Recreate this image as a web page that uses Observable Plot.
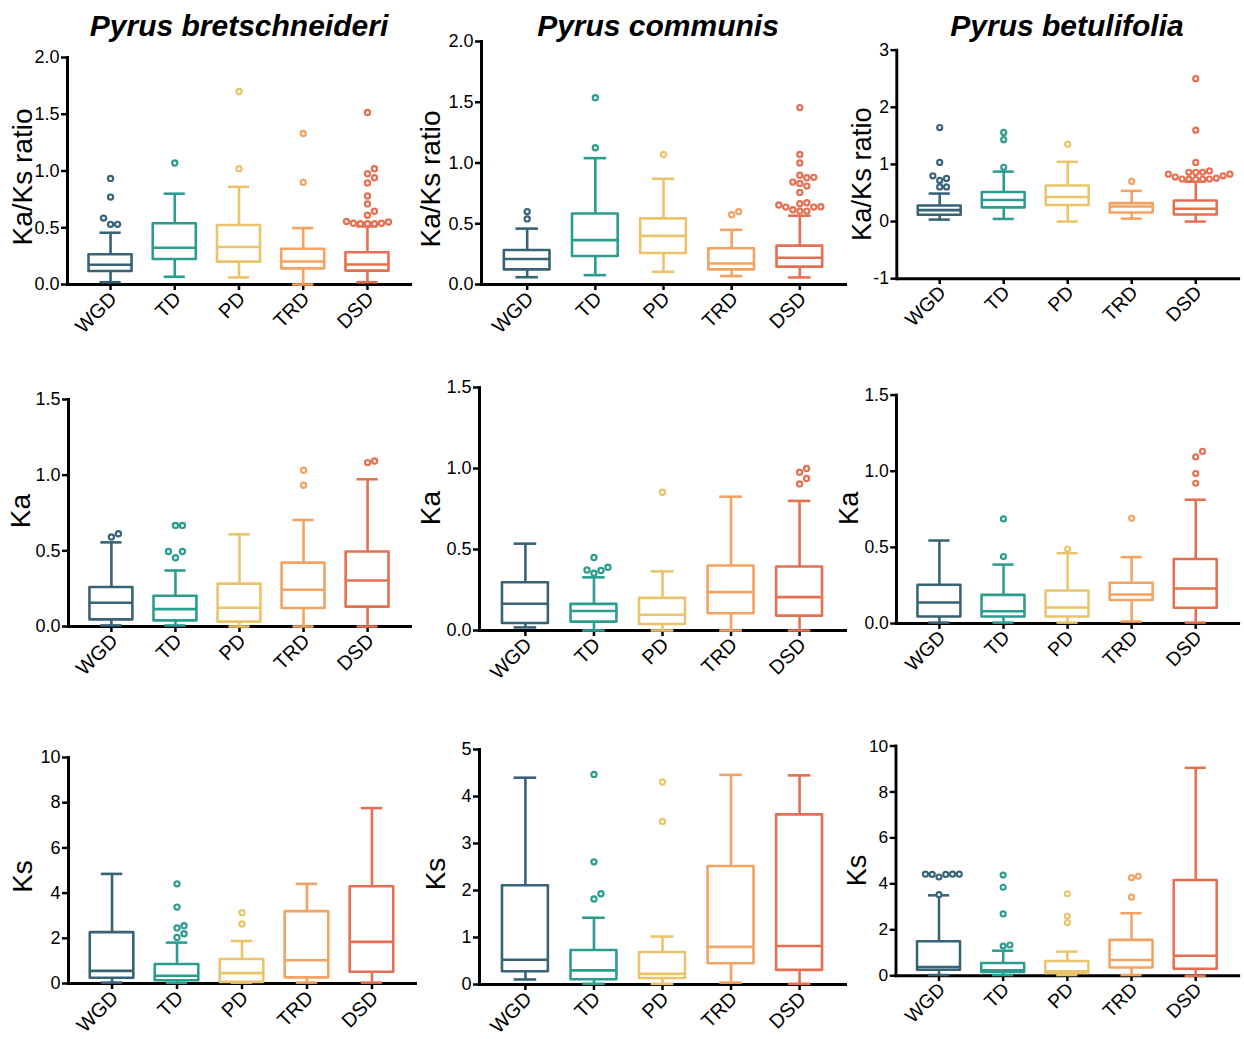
<!DOCTYPE html>
<html>
<head>
<meta charset="utf-8">
<script src="https://cdn.jsdelivr.net/npm/d3@7"></script>
<script src="https://cdn.jsdelivr.net/npm/@observablehq/plot@0.6"></script>
<style>
html, body { margin: 0; padding: 0; background: #fff; overflow: hidden; }
#root { position: relative; width: 1244px; height: 1039px; overflow: hidden; font-family: "Liberation Sans", Arial, sans-serif; }
.title { position: absolute; top: 9px; width: 420px; margin-left: -210px; text-align: center; white-space: nowrap;
  font: italic bold 30px/34px "Liberation Sans", Arial, sans-serif; color: #000; }
.panel { position: absolute; }
</style>
</head>
<body>
<div id="root"></div>
<script>
// ---------- data ----------
const categories = ["WGD", "TD", "PD", "TRD", "DSD"];
const colors = ["#386276", "#2a9d8f", "#e9c46a", "#f4a261", "#e76f51"];
const species = ["Pyrus bretschneideri", "Pyrus communis", "Pyrus betulifolia"];
const metricLabels = ["Ka/Ks ratio", "Ka", "Ks"];

const ticksKaKs = [0, 0.5, 1, 1.5, 2];
const ticksKaKsBet = [-1, 0, 1, 2, 3];
const ticksKa = [0, 0.5, 1, 1.5];
const ticksKs10 = [0, 2, 4, 6, 8, 10];
const ticksKs5 = [0, 1, 2, 3, 4, 5];

// box stats per category: [lower whisker, Q1, median, Q3, upper whisker]
const bretKaKsStats = [[0.02, 0.115, 0.174, 0.262, 0.456], [0.068, 0.22, 0.324, 0.535, 0.80], [0.062, 0.197, 0.33, 0.52, 0.86], [0.0, 0.138, 0.203, 0.31, 0.497], [0.02, 0.118, 0.176, 0.28, 0.512]];
const bretKaKsOut = [[0.935, 0.77, 0.585, 0.53, 0.53], [1.07], [1.02, 1.70], [0.90, 1.33], [1.515, 1.02, 0.976, 0.94, 0.894, 0.78, 0.71, 0.645, 0.61, 0.555, 0.55, 0.54, 0.54, 0.535, 0.535, 0.535]];

const commKaKsStats = [[0.06, 0.12, 0.21, 0.28, 0.46], [0.077, 0.23, 0.365, 0.58, 1.04], [0.104, 0.255, 0.40, 0.54, 0.87], [0.069, 0.12, 0.173, 0.294, 0.45], [0.058, 0.143, 0.22, 0.316, 0.566]];
const commKaKsOut = [[0.54, 0.60], [1.126, 1.538], [1.07], [0.574, 0.60], [1.456, 1.07, 1.0, 0.90, 0.882, 0.879, 0.843, 0.832, 0.81, 0.758, 0.673, 0.665, 0.654, 0.64, 0.637, 0.637, 0.615, 0.604, 0.604]];

const betuKaKsStats = [[0.034, 0.11, 0.2, 0.274, 0.49], [0.046, 0.24, 0.377, 0.509, 0.874], [0.0, 0.28, 0.43, 0.623, 1.046], [0.051, 0.149, 0.263, 0.314, 0.537], [0.0, 0.114, 0.223, 0.36, 0.697]];
const betuKaKsOut = [[1.646, 1.034, 0.80, 0.754, 0.72, 0.606, 0.606], [1.56, 1.434, 0.949], [1.354], [0.703], [2.5, 1.6, 1.034, 0.886, 0.863, 0.863, 0.86, 0.83, 0.83, 0.80, 0.78, 0.76, 0.745, 0.745, 0.743, 0.74, 0.74]];

const bretKaStats = [[0.007, 0.044, 0.157, 0.258, 0.556], [0.007, 0.037, 0.115, 0.20, 0.37], [0.0, 0.029, 0.124, 0.28, 0.609], [0.0, 0.119, 0.243, 0.419, 0.704], [0.0, 0.128, 0.304, 0.492, 0.973]];
const bretKaOut = [[0.591, 0.613], [0.454, 0.496, 0.496, 0.668, 0.668], [], [0.933, 1.032], [1.083, 1.094]];

const commKaStats = [[0.019, 0.043, 0.165, 0.295, 0.536], [0.0, 0.052, 0.12, 0.161, 0.328], [0.0, 0.037, 0.097, 0.198, 0.365], [0.0, 0.103, 0.237, 0.398, 0.826], [0.0, 0.089, 0.206, 0.392, 0.80]];
const commKaOut = [[], [0.451, 0.373, 0.354, 0.371, 0.39], [0.853], [], [1.0, 0.977, 0.938, 0.905]];

const betuKaStats = [[0.006, 0.043, 0.138, 0.251, 0.545], [0.006, 0.043, 0.081, 0.185, 0.387], [0.006, 0.043, 0.106, 0.213, 0.462], [0.013, 0.151, 0.191, 0.264, 0.436], [0.006, 0.10, 0.23, 0.421, 0.813]];
const betuKaOut = [[], [0.44, 0.687], [0.489], [0.691], [0.921, 0.985, 1.094, 1.13]];

const bretKsStats = [[0.04, 0.235, 0.56, 2.25, 4.85], [0.03, 0.12, 0.34, 0.84, 1.81], [0.04, 0.05, 0.46, 1.06, 1.88], [0.04, 0.25, 1.03, 3.18, 4.41], [0.04, 0.5, 1.84, 4.28, 7.76]];
const bretKsOut = [[], [2.04, 2.2, 2.46, 2.56, 3.38, 4.41], [2.63, 3.13], [], []];

const commKsStats = [[0.107, 0.27, 0.526, 2.1, 4.40], [0.014, 0.1, 0.3, 0.724, 1.42], [0.014, 0.128, 0.227, 0.68, 1.02], [0.04, 0.44, 0.80, 2.51, 4.46], [0.014, 0.3, 0.82, 3.61, 4.45]];
const commKsOut = [[], [1.82, 1.93, 2.61, 4.47], [3.47, 4.31], [], []];

const betuKsStats = [[0.03, 0.24, 0.38, 1.48, 3.5], [0.03, 0.14, 0.24, 0.53, 1.09], [0.03, 0.1, 0.2, 0.62, 1.05], [0.03, 0.34, 0.69, 1.54, 2.72], [0.0, 0.28, 0.87, 4.15, 9.05]];
const betuKsOut = [[3.53, 4.42, 4.42, 4.41, 4.30, 4.41, 4.42], [1.29, 1.34, 2.69, 3.85, 4.38], [2.31, 2.59, 3.57], [3.42, 4.33, 4.27], []];

// ---------- layout ----------
const fmt1 = d => d.toFixed(1);
const fmtInt = d => String(d);
const panels = [
  {stats: bretKaKsStats, out: bretKaKsOut, ticks: ticksKaKs, fmt: fmt1, label: metricLabels[0], ymin: 0, ymax: 2,  left: 67,  right: 410,  top: 57,  bottom: 284, labelOffset: 55, labelDy: 6},
  {stats: commKaKsStats, out: commKaKsOut, ticks: ticksKaKs, fmt: fmt1, label: metricLabels[0], ymin: 0, ymax: 2,  left: 481, right: 845,  top: 41,  bottom: 284, labelOffset: 61, labelDy: 16},
  {stats: betuKaKsStats, out: betuKaKsOut, ticks: ticksKaKsBet, fmt: fmtInt, label: metricLabels[0], ymin: -1, ymax: 3, left: 898, right: 1248, top: 50, bottom: 284, labelOffset: 46, labelDy: 10},
  {stats: bretKaStats, out: bretKaOut, ticks: ticksKa, fmt: fmt1, label: metricLabels[1], ymin: 0, ymax: 1.5, left: 68,  right: 410,  top: 399, bottom: 626, labelOffset: 58, labelDy: -2},
  {stats: commKaStats, out: commKaOut, ticks: ticksKa, fmt: fmt1, label: metricLabels[1], ymin: 0, ymax: 1.5, left: 479, right: 845,  top: 387, bottom: 630, labelOffset: 59, labelDy: -1},
  {stats: betuKaStats, out: betuKaOut, ticks: ticksKa, fmt: fmt1, label: metricLabels[1], ymin: 0, ymax: 1.5, left: 898, right: 1250, top: 395, bottom: 630, labelOffset: 59, labelDy: -1},
  {stats: bretKsStats, out: bretKsOut, ticks: ticksKs10, fmt: fmtInt, label: metricLabels[2], ymin: 0, ymax: 10, left: 68,  right: 415,  top: 757, bottom: 983, labelOffset: 56, labelDy: 6},
  {stats: commKsStats, out: commKsOut, ticks: ticksKs5, fmt: fmtInt, label: metricLabels[2], ymin: 0, ymax: 5,  left: 479, right: 845,  top: 749, bottom: 984, labelOffset: 54, labelDy: 7},
  {stats: betuKsStats, out: betuKsOut, ticks: ticksKs10, fmt: fmtInt, label: metricLabels[2], ymin: 0, ymax: 10, left: 898, right: 1253, top: 746, bottom: 984, labelOffset: 51, labelDy: 10}
];
const titleCenters = [239, 658, 1067];

const root = document.getElementById("root");
species.forEach((s, k) => {
  const t = document.createElement("div");
  t.className = "title";
  t.style.left = titleCenters[k] + "px";
  t.textContent = s;
  root.appendChild(t);
});

const PAD = 0.67, BOX_HALF = 0.335, CAP_HALF = 0.165;
const mL = 72, mR = 6, mT = 14, mB = 80;
const catIdx = categories.map((c, i) => i);

function buildPanel(p) {
  const width = p.right - p.left + mL + mR;
  const height = p.bottom - p.top + mT + mB;
  const step = (p.right - p.left) / (4 + 2 * PAD);
  const pxPerY = (p.bottom - p.top) / (p.ymax - p.ymin);
  const boxes = p.stats.map((s, i) => ({i, cat: categories[i], lo: s[0], q1: s[1], med: s[2], q3: s[3], hi: s[4]}));
  // simple beeswarm so overlapping outliers sit side by side
  const D = 7;
  const dots = [];
  p.out.forEach((vals, i) => {
    const placed = [];
    [...vals].sort((a, b) => a - b).forEach(v => {
      const py = v * pxPerY;
      for (let k = 0; k < 60; k++) {
        const off = (k === 0 ? 0 : (k % 2 ? Math.ceil(k / 2) : -k / 2)) * D;
        if (placed.every(q => (q.ox - off) ** 2 + (q.py - py) ** 2 >= D * D * 0.9)) {
          placed.push({ox: off, py});
          dots.push({cat: categories[i], v, x: i + off / step});
          break;
        }
      }
    });
  });
  const stroke = {stroke: "cat", strokeWidth: 2.6};
  const svg = Plot.plot({
    width, height, marginLeft: mL, marginRight: mR, marginTop: mT, marginBottom: mB,
    style: {fontFamily: "'Liberation Sans', Arial, sans-serif", background: "transparent", color: "#000", overflow: "visible"},
    x: {domain: [-PAD, 4 + PAD], axis: null},
    y: {domain: [p.ymin, p.ymax], axis: null},
    color: {domain: categories, range: colors},
    marks: [
      Plot.axisY({ticks: p.ticks, tickFormat: p.fmt, tickSize: 6, tickPadding: 2, fontSize: 18, strokeWidth: 2.5, label: null}),
      Plot.text([p.label], {text: d => d, frameAnchor: "left", rotate: -90, lineAnchor: "top", textAnchor: "middle", dx: -p.labelOffset, dy: p.labelDy, fontSize: 28, fill: "#000"}),
      Plot.axisX({ticks: catIdx, tickSize: 6, strokeWidth: 2.5, fill: "none", label: null}),
      Plot.axisX({ticks: catIdx, tickFormat: i => categories[i], tickRotate: -45, tickSize: 0, tickPadding: 9, fontSize: 20, label: null, dx: 3, dy: 2}),
      Plot.frame({anchor: "left", strokeWidth: 3, strokeLinecap: "square"}),
      Plot.frame({anchor: "bottom", strokeWidth: 3, strokeLinecap: "square"}),
      Plot.ruleX(boxes, {x: "i", y1: "lo", y2: "q1", ...stroke}),
      Plot.ruleX(boxes, {x: "i", y1: "q3", y2: "hi", ...stroke}),
      Plot.ruleY(boxes, {y: "lo", x1: d => d.i - CAP_HALF, x2: d => d.i + CAP_HALF, ...stroke}),
      Plot.ruleY(boxes, {y: "hi", x1: d => d.i - CAP_HALF, x2: d => d.i + CAP_HALF, ...stroke}),
      Plot.rect(boxes, {x1: d => d.i - BOX_HALF, x2: d => d.i + BOX_HALF, y1: "q1", y2: "q3", fill: "white", strokeLinejoin: "round", ...stroke}),
      Plot.ruleY(boxes, {y: "med", x1: d => d.i - BOX_HALF, x2: d => d.i + BOX_HALF, ...stroke}),
      Plot.dot(dots, {x: "x", y: "v", r: 2.6, fill: "white", stroke: "cat", strokeWidth: 2.2})
    ]
  });
  const wrap = document.createElement("div");
  wrap.className = "panel";
  wrap.style.left = (p.left - mL) + "px";
  wrap.style.top = (p.top - mT) + "px";
  wrap.appendChild(svg);
  root.appendChild(wrap);
}
panels.forEach(buildPanel);
</script>
</body>
</html>
